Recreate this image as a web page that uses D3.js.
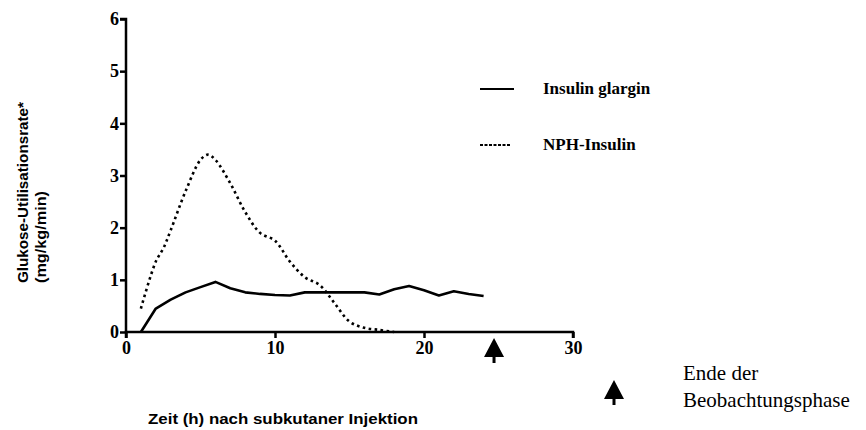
<!DOCTYPE html>
<html>
<head>
<meta charset="utf-8">
<script src="https://cdn.jsdelivr.net/npm/d3@7"></script>
<style>
  body { margin: 0; background: #fff; }
</style>
</head>
<body>
<svg id="chart"></svg>
<script>
// Stunden nach Injektion und Glukose-Utilisationsrate (mg/kg/min)
const glarginHours = [1, 2, 3, 4, 5, 6, 7, 8, 9, 10, 11, 12, 13, 14, 15, 16, 17, 18, 19, 20, 21, 22, 23, 24];
const glarginRate  = [0, 0.45, 0.62, 0.76, 0.86, 0.96, 0.84, 0.76, 0.73, 0.71, 0.7, 0.76, 0.76, 0.76, 0.76, 0.76, 0.72, 0.82, 0.88, 0.8, 0.7, 0.78, 0.73, 0.69];
const nphHours = [1, 2, 2.5, 3, 4, 5, 5.5, 6, 7, 8, 9, 10, 11, 12, 13, 14, 15, 16, 17, 18];
const nphRate  = [0.45, 1.35, 1.6, 1.95, 2.7, 3.3, 3.4, 3.3, 2.85, 2.3, 1.9, 1.75, 1.35, 1.05, 0.9, 0.55, 0.2, 0.08, 0.04, 0.0];
const xTicks = [0, 10, 20, 30];
const yTicks = [0, 1, 2, 3, 4, 5, 6];
const endHour = 24.7;

const svg = d3.select("#chart")
    .attr("width", 866)
    .attr("height", 430);

const x = d3.scaleLinear().domain([0, 30]).range([126, 573]);
const y = d3.scaleLinear().domain([0, 6]).range([332, 19]);

// Achsen
svg.append("g")
    .attr("transform", "translate(0,332)")
    .call(d3.axisBottom(x).tickValues(xTicks).tickFormat(d3.format("d")).tickSize(6).tickPadding(3))
    .call(g => g.select(".domain").attr("d", `M${x(0)},6V0H${x(30)}V6`))
    .call(g => g.selectAll("path, line").attr("stroke", "#000").attr("stroke-width", 2.5))
    .call(g => g.selectAll("text").attr("font-family", "Liberation Serif, serif")
        .attr("font-weight", "bold").attr("font-size", 18));

svg.append("g")
    .attr("transform", "translate(126,0)")
    .call(d3.axisLeft(y).tickValues(yTicks).tickFormat(d3.format("d")).tickSize(6).tickPadding(1))
    .call(g => g.select(".domain").attr("d", `M-6,${y(6)}H0V${y(0)}`))
    .call(g => g.selectAll("path, line").attr("stroke", "#000").attr("stroke-width", 2.5))
    .call(g => g.selectAll("text").attr("font-family", "Liberation Serif, serif")
        .attr("font-weight", "bold").attr("font-size", 18));

// Kurven
const glarginLine = d3.line()
    .x(d => x(d[0]))
    .y(d => y(d[1]));

const nphLine = d3.line()
    .x(d => x(d[0]))
    .y(d => y(d[1]))
    .curve(d3.curveCatmullRom.alpha(0.5));

svg.append("path")
    .datum(d3.zip(glarginHours, glarginRate))
    .attr("d", glarginLine)
    .attr("fill", "none")
    .attr("stroke", "#000")
    .attr("stroke-width", 2.6)
    .attr("stroke-linejoin", "round");

svg.append("path")
    .datum(d3.zip(nphHours, nphRate))
    .attr("d", nphLine)
    .attr("fill", "none")
    .attr("stroke", "#000")
    .attr("stroke-width", 2.6)
    .attr("stroke-dasharray", "2.6,3.4");

// Legende
const legend = svg.append("g").attr("font-family", "Liberation Serif, serif").attr("font-weight", "bold").attr("font-size", 17);
legend.append("line").attr("x1", 480).attr("x2", 514).attr("y1", 89).attr("y2", 89)
    .attr("stroke", "#000").attr("stroke-width", 2);
legend.append("text").attr("x", 543).attr("y", 88).attr("dy", "0.35em").text("Insulin glargin");
legend.append("line").attr("x1", 480).attr("x2", 511).attr("y1", 145).attr("y2", 145)
    .attr("stroke", "#000").attr("stroke-width", 2).attr("stroke-dasharray", "3,1.5");
legend.append("text").attr("x", 543).attr("y", 144).attr("dy", "0.35em").text("NPH-Insulin");

// Achsentitel
const yTitle = svg.append("text")
    .attr("transform", "translate(0,283) rotate(-90)")
    .attr("font-family", "Liberation Sans, Arial, sans-serif")
    .attr("font-weight", "bold")
    .attr("font-size", 14);
yTitle.append("tspan").attr("x", 0).attr("y", 28).attr("textLength", 181)
    .attr("lengthAdjust", "spacingAndGlyphs").text("Glukose-Utilisationsrate*");
yTitle.append("tspan").attr("x", 0).attr("y", 46).attr("textLength", 92)
    .attr("lengthAdjust", "spacingAndGlyphs").text("(mg/kg/min)");

svg.append("text")
    .attr("x", 148).attr("y", 424)
    .attr("font-family", "Liberation Sans, Arial, sans-serif")
    .attr("font-weight", "bold")
    .attr("font-size", 14)
    .attr("textLength", 270)
    .attr("lengthAdjust", "spacingAndGlyphs")
    .text("Zeit (h) nach subkutaner Injektion");

// Pfeil: Ende der Beobachtungsphase
function arrow(cx, top) {
    svg.append("path")
        .attr("d", `M${cx},${top} L${cx + 10},${top + 19} L${cx + 1.5},${top + 19} L${cx + 1.5},${top + 25} L${cx - 1.5},${top + 25} L${cx - 1.5},${top + 19} L${cx - 10},${top + 19} Z`)
        .attr("fill", "#000");
}
arrow(x(endHour), 338);
arrow(614, 380);

const note = svg.append("text")
    .attr("font-family", "Liberation Serif, serif")
    .attr("font-size", 21);
note.append("tspan").attr("x", 683).attr("y", 380).text("Ende der");
note.append("tspan").attr("x", 683).attr("y", 407).text("Beobachtungsphase");
</script>
</body>
</html>
